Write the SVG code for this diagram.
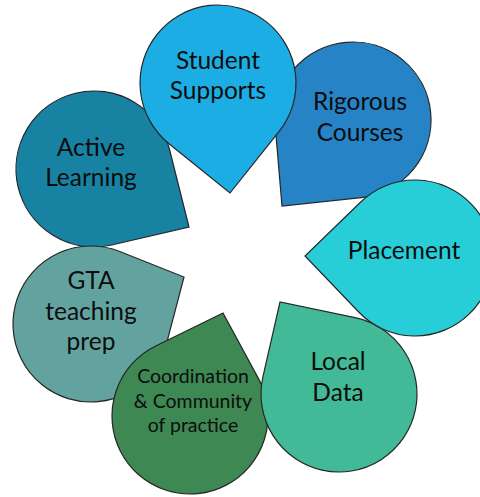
<svg xmlns="http://www.w3.org/2000/svg" width="480" height="497" viewBox="0 0 480 497">
<style>
.shape{stroke:#262626;stroke-width:1.2;stroke-linejoin:miter}
.t{font-family:"Lato","Liberation Sans",sans-serif;font-size:24.5px;fill:#0d0d0d;text-anchor:middle}
.s{font-size:19.5px}
</style>
<rect width="480" height="497" fill="#ffffff"/>
<g id="connectors"></g>
<g id="active-learning">
<path class="shape" fill="#1782A2" d="M169.65,149.98 L189,227 L111.67,244.97 A78,78 0 1 1 169.65,149.98 Z"/>
<text class="t" x="91" y="156">Active</text>
<text class="t" x="91" y="186">Learning</text>
</g>
<g id="gta-teaching-prep">
<path class="shape" fill="#62A39F" d="M119.79,251.51 L184,277 L166.44,343.82 A78,78 0 1 1 119.79,251.51 Z"/>
<text class="t" x="91" y="289">GTA</text>
<text class="t" x="91" y="320">teaching</text>
<text class="t" x="91" y="350">prep</text>
</g>
<g id="coordination">
<path class="shape" fill="#3E8853" d="M155.70,345.95 L223,313 L258.62,378.91 A78,78 0 1 1 155.70,345.95 Z"/>
<text class="t s" x="193" y="383">Coordination</text>
<text class="t s" x="193" y="408">&amp; Community</text>
<text class="t s" x="193" y="432">of practice</text>
</g>
<g id="local-data">
<path class="shape" fill="#42BA97" d="M262.96,376.63 L280,302 L354.94,317.65 A78,78 0 1 1 262.96,376.63 Z"/>
<text class="t" x="338" y="370">Local</text>
<text class="t" x="338" y="401">Data</text>
</g>
<g id="rigorous-courses">
<path class="shape" fill="#2683C6" d="M361.26,197.56 L282,206 L275.28,126.58 A78,78 0 1 1 361.26,197.56 Z"/>
<text class="t" x="360" y="110">Rigorous</text>
<text class="t" x="360" y="141">Courses</text>
</g>
<g id="placement">
<path class="shape" fill="#27CED7" d="M358.71,311.99 L305,256 L360.70,202.00 A78,78 0 1 1 358.71,311.99 Z"/>
<text class="t" x="404" y="259">Placement</text>
</g>
<g id="student-supports">
<path class="shape" fill="#1CADE4" d="M278.96,131.66 L230,193 L168.97,143.66 A78,78 0 1 1 278.96,131.66 Z"/>
<text class="t" x="218" y="69">Student</text>
<text class="t" x="218" y="99">Supports</text>
</g>
</svg>
